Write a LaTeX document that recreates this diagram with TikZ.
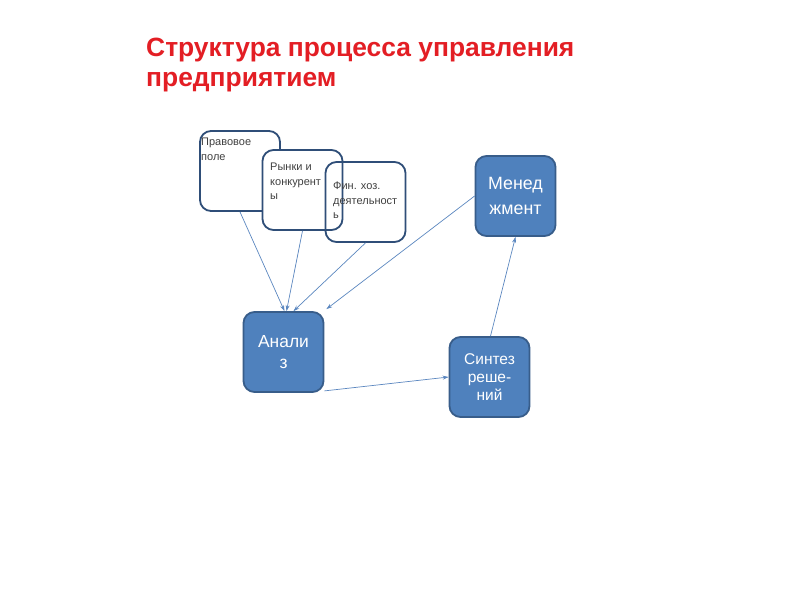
\documentclass[tikz,border=0pt]{standalone}
\usepackage{fontspec}
\setmainfont{Liberation Sans}
\usetikzlibrary{calc,arrows.meta}
\definecolor{boxblue}{HTML}{4F81BD}
\definecolor{boxedge}{HTML}{385D8A}
\definecolor{outl}{HTML}{2F4E78}
\definecolor{titlered}{HTML}{E31E24}
\definecolor{arr}{HTML}{5B87C0}
\tikzset{
  whitebox/.style={draw=outl, line width=1.8pt, rounded corners=11pt, minimum width=80pt, minimum height=80pt, inner sep=0pt},
  bluebox/.style={draw=boxedge, fill=boxblue, line width=1.8pt, rounded corners=11pt, minimum width=80pt, minimum height=80pt, inner sep=0pt, text=white, align=center},
  smalltxt/.style={anchor=north west, align=left, inner sep=0pt, text=black!75, font=\fontsize{11}{14.5}\selectfont},
  conn/.style={draw=arr, line width=0.7pt, -{Stealth[length=6pt,width=4pt]}}
}
\begin{document}
\begin{tikzpicture}[x=1pt,y=-1pt]
\useasboundingbox (0,0) rectangle (800,600);
\fill[white] (0,0) rectangle (800,600);
\node[anchor=north west, inner sep=0pt, text=titlered, align=left, font=\bfseries\fontsize{26.4}{30}\selectfont] (title) at (146,38) {Структура процесса управления\\предприятием};

\node[whitebox, fill=white] (prav) at (240,171) {};
\node[smalltxt] (pravt) at (201,138) {Правовое\\поле};
\node[whitebox, fill=white] (ryn) at (302.5,190) {};
\node[smalltxt] (ryntt) at (270,163) {Рынки и\\конкурент\\ы};
\node[whitebox] (fin) at (365.5,202) {};
\node[smalltxt] (fint) at (333,182) {Фин. хоз.\\деятельност\\ь};

\node[bluebox, font=\fontsize{17.8}{25}\selectfont] (men) at (515.5,196) {Менед\\жмент};
\node[bluebox, font=\fontsize{17.4}{21.5}\selectfont] (anal) at (283.5,352) {Анали\\з};
\node[bluebox, font=\fontsize{15.5}{18}\selectfont] (syn) at (489.5,377) {Синтез\\реше-\\ний};

\draw[conn] (prav.south) -- ($(anal.north)+(1,0)$);
\draw[conn] (ryn.south) -- ($(anal.north)+(3,0)$);
\draw[conn] (fin.south) -- ($(anal.north)+(10,0)$);
\draw[conn] (men.west) -- ($(anal.north east)+(2,-2)$);
\draw[conn] ($(anal.south east)+(0,-2)$) -- (syn.west);
\draw[conn] ($(syn.north)+(1,0)$) -- (men.south);
\end{tikzpicture}
\end{document}
